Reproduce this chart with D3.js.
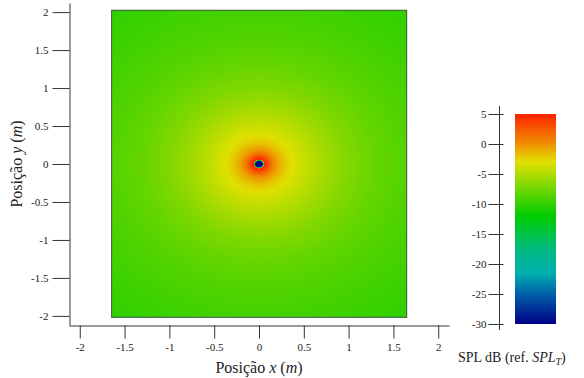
<!DOCTYPE html>
<html>
<head>
<meta charset="utf-8">
<script src="https://cdn.jsdelivr.net/npm/d3@7"></script>
<style>
  body { margin: 0; background: #fff; }
</style>
</head>
<body>
<div id="chart"></div>
<script>
// axis ticks
const xTicks = [-2, -1.5, -1, -0.5, 0, 0.5, 1, 1.5, 2];
const yTicks = [-2, -1.5, -1, -0.5, 0, 0.5, 1, 1.5, 2];
const cbTicks = [5, 0, -5, -10, -15, -20, -25, -30];

// extent of the computed field (m)
const fieldX = [-1.65, 1.65];
const fieldY = [-2.03, 2.03];

// radial SPL profile (distance from source in m -> dB)
const radii = [0, 0.04, 0.06, 0.1, 0.15, 0.2, 0.3, 0.4, 0.5, 0.6, 0.8, 1.0, 1.3, 1.65, 2.0, 2.65];
const splValues = [-30, -30, 5, 3, 0.8, -0.6, -2.3, -3.2, -3.9, -4.6, -5.8, -6.8, -7.9, -8.7, -9.3, -10.2];

// colour map (dB -> colour)
const cmapDb = [-30, -25, -21.5, -17.5, -12, -3, 0, 5];
const cmapColors = ['#000088', '#0060a8', '#00b0b0', '#00bb80', '#00cc00', '#e0e000', '#f09000', '#ff2000'];

const serif = "'Liberation Serif'";
const width = 584, height = 378;

const svg = d3.select('#chart')
  .append('svg')
  .attr('width', width)
  .attr('height', height)
  .style('display', 'block');

// scales
const x = d3.scaleLinear().domain([-2.12, 2.12]).range([69, 449]);
const y = d3.scaleLinear().domain([-2.12, 2.12]).range([325, 3]);
const cb = d3.scaleLinear().domain([-30, 5]).range([324, 114]);

const color = d3.scaleLinear()
  .domain(cmapDb)
  .range(cmapColors)
  .interpolate(d3.interpolateRgb)
  .clamp(true);

const profile = d3.scaleLinear().domain(radii).range(splValues).clamp(true);

// heat map drawn into a canvas, placed as an image
const x0 = x(fieldX[0]), x1 = x(fieldX[1]);
const y0 = y(fieldY[1]), y1 = y(fieldY[0]);
const cw = Math.round(x1 - x0), ch = Math.round(y1 - y0);
const canvas = document.createElement('canvas');
canvas.width = cw;
canvas.height = ch;
const ctx = canvas.getContext('2d');
const img = ctx.createImageData(cw, ch);
for (let j = 0; j < ch; j++) {
  const py = y.invert(y0 + j + 0.5);
  for (let i = 0; i < cw; i++) {
    const px = x.invert(x0 + i + 0.5);
    const r = Math.sqrt(px * px + py * py);
    const c = d3.rgb(color(profile(r)));
    const k = (j * cw + i) * 4;
    img.data[k] = c.r;
    img.data[k + 1] = c.g;
    img.data[k + 2] = c.b;
    img.data[k + 3] = 255;
  }
}
ctx.putImageData(img, 0, 0);

svg.append('image')
  .attr('x', x0)
  .attr('y', y0)
  .attr('width', cw)
  .attr('height', ch)
  .attr('preserveAspectRatio', 'none')
  .attr('href', canvas.toDataURL());

svg.append('rect')
  .attr('x', x0 + 0.5)
  .attr('y', y0 + 0.5)
  .attr('width', cw - 1)
  .attr('height', ch - 1)
  .attr('fill', 'none')
  .attr('stroke', '#555')
  .attr('stroke-width', 1);

// Y axis
const yAxis = svg.append('g')
  .attr('transform', 'translate(69.5,0)')
  .call(d3.axisLeft(y).tickValues(yTicks).tickSize(17).tickSizeOuter(0).tickPadding(4)
    .tickFormat(d => String(d)));

// X axis
const xAxis = svg.append('g')
  .attr('transform', 'translate(0,325.5)')
  .call(d3.axisBottom(x).tickValues(xTicks).tickSize(13).tickSizeOuter(0).tickPadding(5)
    .tickFormat(d => String(d)));

// colour bar axis
const cAxis = svg.append('g')
  .attr('transform', 'translate(499.5,0)')
  .call(d3.axisLeft(cb).tickValues(cbTicks).tickSize(11).tickSizeOuter(0).tickPadding(2)
    .tickFormat(d => String(d)));
cAxis.select('.domain').remove();
cAxis.selectAll('.tick line').attr('x1', 4);
cAxis.append('line')
  .attr('x1', 0).attr('x2', 0)
  .attr('y1', 106).attr('y2', 330);

[yAxis, xAxis, cAxis].forEach(g => {
  g.attr('font-family', null).attr('font-size', null);
  g.selectAll('line, path').attr('stroke', '#333');
  g.selectAll('text')
    .style('font-family', serif)
    .style('font-size', '11px')
    .attr('fill', '#222');
});

// axis titles
const xt = svg.append('text')
  .attr('x', x(0))
  .attr('y', 373)
  .attr('text-anchor', 'middle')
  .style('font-family', serif)
  .style('font-size', '16px')
  .attr('fill', '#222');
xt.append('tspan').text('Posição ');
xt.append('tspan').style('font-style', 'italic').text('x');
xt.append('tspan').text(' (');
xt.append('tspan').style('font-style', 'italic').text('m');
xt.append('tspan').text(')');

const yt = svg.append('text')
  .attr('transform', `translate(22,${y(0)}) rotate(-90)`)
  .attr('text-anchor', 'middle')
  .style('font-family', serif)
  .style('font-size', '16px')
  .attr('fill', '#222');
yt.append('tspan').text('Posição ');
yt.append('tspan').style('font-style', 'italic').text('y');
yt.append('tspan').text(' (');
yt.append('tspan').style('font-style', 'italic').text('m');
yt.append('tspan').text(')');

// colour bar
const defs = svg.append('defs');
const grad = defs.append('linearGradient')
  .attr('id', 'cbar')
  .attr('x1', 0).attr('y1', 1)
  .attr('x2', 0).attr('y2', 0);
grad.selectAll('stop')
  .data(cmapDb)
  .enter().append('stop')
  .attr('offset', d => (d - cmapDb[0]) / (cmapDb[cmapDb.length - 1] - cmapDb[0]))
  .attr('stop-color', d => color(d));

svg.append('rect')
  .attr('x', 515)
  .attr('y', cb(5))
  .attr('width', 41)
  .attr('height', cb(-30) - cb(5))
  .attr('fill', 'url(#cbar)');

const ct = svg.append('text')
  .attr('x', 458)
  .attr('y', 362)
  .style('font-family', serif)
  .style('font-size', '14px')
  .attr('fill', '#222');
ct.append('tspan').text('SPL dB (ref. ');
ct.append('tspan').style('font-style', 'italic').text('SPL');
ct.append('tspan').style('font-style', 'italic').style('font-size', '10px').attr('dy', 3).text('T');
ct.append('tspan').attr('dy', -3).text(')');
</script>
</body>
</html>
